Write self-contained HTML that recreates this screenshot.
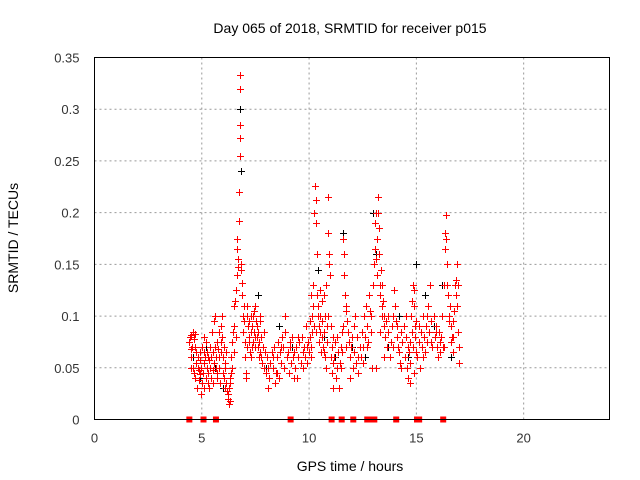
<!DOCTYPE html>
<html><head><meta charset="utf-8"><style>
body{margin:0;background:#fff;}
svg{display:block;font-family:"Liberation Sans",sans-serif;}
</style></head><body>
<svg id="chart" width="640" height="480">
<text x="350" y="33" font-size="14" text-anchor="middle">Day 065 of 2018, SRMTID for receiver p015</text>
<text transform="translate(18,238) rotate(-90)" font-size="14" text-anchor="middle">SRMTID / TECUs</text>
<text x="350" y="471" font-size="14" text-anchor="middle">GPS time / hours</text>
<g id="grid"></g><g id="ticks"></g><g id="marks"></g>
<rect x="94.5" y="57.5" width="515" height="362" fill="none" stroke="#000"/>
</svg>
<script>
const xTicks=[0,5,10,15,20];
const yTicks=[0,0.05,0.1,0.15,0.2,0.25,0.3,0.35];
const yTickLabels=["0","0.05","0.1","0.15","0.2","0.25","0.3","0.35"];
const redT=[
4.42,4.45,4.48,4.5,4.52,4.55,4.58,4.6,4.62,4.65,
4.68,4.7,4.72,4.75,4.78,4.8,4.82,4.85,4.88,4.9,
4.92,4.95,4.98,5.0,5.02,5.05,5.08,5.1,5.12,5.15,
5.18,5.2,5.22,5.25,5.28,5.3,5.32,5.35,5.38,5.4,
5.42,5.45,5.48,5.5,5.52,5.55,5.58,5.6,5.62,5.65,
5.68,5.7,5.72,5.75,5.78,5.8,5.82,5.85,5.88,5.9,
5.92,5.95,5.98,6.0,6.02,6.05,6.08,6.1,6.12,6.15,
6.18,6.2,6.22,6.25,6.28,6.3,6.32,6.35,6.38,6.4,
6.42,6.45,6.48,6.5,6.52,6.55,6.58,6.6,6.62,6.65,
6.66,6.68,6.7,6.72,6.74,6.76,6.78,6.78,6.8,6.8,
6.82,6.84,6.86,6.88,6.9,6.92,6.95,6.98,7.0,7.02,
7.05,7.08,7.1,7.12,7.15,7.18,7.2,7.22,7.25,7.28,
7.3,7.32,7.35,7.38,7.4,7.42,7.45,7.48,7.5,7.52,
7.55,7.58,7.6,7.62,7.65,7.68,7.7,7.72,7.75,7.78,
7.8,7.85,7.9,7.95,8.0,8.05,8.1,8.15,8.2,8.25,
8.3,8.35,8.4,8.45,8.5,8.55,8.6,8.65,8.7,8.75,
8.8,8.85,8.9,8.95,9.0,9.05,9.1,9.15,9.2,9.25,
9.3,9.35,9.4,9.45,9.5,9.55,9.6,9.65,9.7,9.75,
9.8,9.85,9.9,9.95,10.0,10.02,10.05,10.08,10.1,10.12,
10.15,10.18,10.2,10.22,10.25,10.28,10.3,10.32,10.35,10.38,
10.4,10.42,10.45,10.48,10.5,10.52,10.55,10.58,10.6,10.62,
10.65,10.68,10.7,10.72,10.75,10.78,10.8,10.82,10.85,10.88,
10.9,10.92,10.95,10.98,11.0,11.02,11.05,11.08,11.1,11.12,
11.15,11.2,11.25,11.3,11.35,11.4,11.45,11.5,11.52,11.55,
11.58,11.6,11.62,11.65,11.68,11.7,11.72,11.75,11.8,11.85,
11.9,11.95,12.0,12.05,12.1,12.15,12.2,12.25,12.3,12.35,
12.4,12.45,12.5,12.55,12.6,12.65,12.7,12.75,12.8,12.85,
12.9,12.95,13.0,13.02,13.05,13.08,13.1,13.12,13.15,13.18,
13.2,13.22,13.25,13.28,13.3,13.32,13.35,13.38,13.4,13.42,
13.45,13.48,13.5,13.55,13.6,13.65,13.7,13.75,13.8,13.85,
13.9,13.95,14.0,14.05,14.1,14.15,14.2,14.25,14.3,14.35,
14.4,14.45,14.5,14.55,14.6,14.62,14.65,14.68,14.7,14.72,
14.75,14.78,14.8,14.82,14.85,14.88,14.9,14.92,14.95,14.98,
15.0,15.05,15.1,15.15,15.2,15.25,15.3,15.35,15.4,15.45,
15.5,15.55,15.6,15.65,15.7,15.75,15.8,15.85,15.9,15.95,
16.0,16.05,16.1,16.15,16.2,16.25,16.3,16.32,16.35,16.38,
16.4,16.42,16.45,16.48,16.5,16.55,16.6,16.65,16.7,16.75,
16.8,16.85,16.9,16.92,16.95,16.98,17.0,16.6,16.85,16.7,
4.5,4.7,4.9,5.1,5.3,5.5,5.7,5.9,6.1,6.3,
7.1,7.3,7.5,7.7,7.9,8.1,8.3,8.5,8.7,8.9,
9.1,9.3,9.5,9.7,9.9,10.1,10.3,10.5,10.7,10.9,
11.1,11.3,11.5,11.7,11.9,12.1,12.3,12.5,12.7,12.9,
13.1,13.3,13.5,13.7,13.9,14.1,14.3,14.5,14.7,14.9,
15.1,15.3,15.5,15.7,15.9,16.1,16.3,16.5,16.7,16.9];
const redV=[
0.075,0.08,0.068,0.06,0.082,0.07,0.085,0.05,0.078,0.045,
0.04,0.083,0.055,0.065,0.03,0.05,0.06,0.038,0.048,0.058,
0.044,0.025,0.05,0.035,0.07,0.045,0.055,0.03,0.065,0.06,
0.075,0.04,0.05,0.065,0.035,0.045,0.058,0.03,0.07,0.05,
0.06,0.04,0.085,0.048,0.065,0.055,0.095,0.1,0.07,0.05,
0.06,0.075,0.04,0.068,0.085,0.06,0.05,0.035,0.09,0.065,
0.1,0.08,0.06,0.045,0.07,0.04,0.03,0.055,0.065,0.035,
0.028,0.02,0.025,0.03,0.015,0.018,0.035,0.045,0.06,0.05,
0.075,0.085,0.065,0.11,0.09,0.115,0.08,0.125,0.14,0.165,
0.175,0.155,0.147,0.192,0.22,0.255,0.272,0.285,0.32,0.333,
0.15,0.145,0.132,0.12,0.1,0.085,0.11,0.095,0.075,0.06,
0.045,0.04,0.1,0.11,0.09,0.08,0.095,0.075,0.065,0.1,
0.085,0.07,0.09,0.075,0.1,0.085,0.105,0.07,0.08,0.095,
0.08,0.09,0.07,0.085,0.06,0.075,0.065,0.1,0.06,0.08,
0.055,0.07,0.05,0.065,0.045,0.06,0.03,0.04,0.055,0.065,
0.05,0.07,0.035,0.045,0.06,0.075,0.04,0.065,0.055,0.08,
0.07,0.05,0.085,0.06,0.065,0.045,0.07,0.055,0.08,0.06,
0.065,0.05,0.07,0.04,0.06,0.075,0.055,0.08,0.065,0.07,
0.06,0.09,0.07,0.075,0.065,0.08,0.095,0.07,0.12,0.1,
0.085,0.11,0.13,0.09,0.2,0.226,0.212,0.19,0.16,0.12,
0.1,0.11,0.09,0.075,0.1,0.085,0.065,0.115,0.08,0.095,
0.07,0.12,0.085,0.06,0.1,0.05,0.13,0.075,0.09,0.215,
0.18,0.16,0.15,0.14,0.09,0.06,0.07,0.045,0.055,0.08,
0.06,0.075,0.04,0.05,0.065,0.03,0.055,0.07,0.085,0.065,
0.09,0.175,0.16,0.14,0.12,0.105,0.11,0.095,0.085,0.075,
0.06,0.07,0.08,0.05,0.065,0.1,0.055,0.08,0.045,0.07,
0.06,0.085,0.07,0.1,0.08,0.11,0.09,0.075,0.12,0.105,
0.085,0.05,0.13,0.15,0.165,0.19,0.155,0.2,0.175,0.14,
0.2,0.215,0.185,0.16,0.13,0.12,0.145,0.11,0.13,0.1,
0.115,0.09,0.1,0.08,0.095,0.07,0.085,0.06,0.075,0.09,
0.1,0.125,0.11,0.095,0.08,0.07,0.065,0.055,0.085,0.075,
0.09,0.06,0.08,0.05,0.07,0.04,0.065,0.035,0.075,0.055,
0.1,0.085,0.115,0.07,0.13,0.11,0.125,0.09,0.08,0.065,
0.095,0.06,0.075,0.05,0.085,0.07,0.1,0.08,0.065,0.09,
0.075,0.11,0.085,0.13,0.095,0.07,0.1,0.08,0.09,0.07,
0.06,0.085,0.075,0.08,0.1,0.07,0.13,0.165,0.18,0.175,
0.198,0.15,0.13,0.12,0.1,0.11,0.09,0.08,0.095,0.105,
0.13,0.135,0.15,0.13,0.085,0.07,0.055,0.075,0.12,0.065,
0.05,0.07,0.065,0.08,0.06,0.035,0.045,0.075,0.05,0.04,
0.07,0.06,0.11,0.095,0.085,0.05,0.06,0.045,0.07,0.1,
0.075,0.04,0.08,0.05,0.055,0.06,0.085,0.125,0.065,0.1,
0.03,0.08,0.05,0.07,0.04,0.09,0.06,0.055,0.07,0.1,
0.05,0.085,0.06,0.1,0.07,0.09,0.05,0.1,0.055,0.045,
0.09,0.06,0.1,0.075,0.085,0.065,0.07,0.095,0.08,0.11];
const blackT=[4.6,4.9,5.2,5.6,6.0,6.4,6.8,6.85,7.2,7.6,8.0,8.6,9.2,9.8,10.2,10.4,10.7,11.2,11.6,12.0,12.6,13.0,13.1,13.3,13.7,14.2,14.6,15.0,15.4,15.8,16.2,16.6,17.0];
const blackV=[0.06,0.04,0.07,0.05,0.03,0.05,0.3,0.24,0.08,0.12,0.05,0.09,0.07,0.06,0.11,0.145,0.08,0.06,0.18,0.07,0.06,0.2,0.16,0.12,0.07,0.1,0.06,0.15,0.12,0.09,0.13,0.06,0.07];
const eventT=[4.42,5.08,5.66,9.14,11.05,11.52,12.06,12.71,12.95,13.04,14.06,15.03,15.13,16.25];
const X0=94.5,X1=609.5,Y0=419.5,Y1=57.5;
const sx=t=>X0+t*(X1-X0)/24, sy=v=>Y0-v*(Y0-Y1)/0.35;
const NS="http://www.w3.org/2000/svg";
function mk(tag,at,parent){const e=document.createElementNS(NS,tag);for(const k in at)e.setAttribute(k,at[k]);parent.appendChild(e);return e;}
const grid=document.getElementById('grid'),ticks=document.getElementById('ticks'),marks=document.getElementById('marks');
xTicks.forEach(t=>{const x=sx(t);
 if(t>0){const g=mk('line',{x1:x,x2:x,y1:Y0,y2:Y1,stroke:'#999','stroke-dasharray':'2,3'},grid);
 
 }
 const tx=mk('text',{x:x,y:Y0+23,'font-size':13,'text-anchor':'middle',fill:'#333'},ticks);tx.textContent=t;
 
 });
yTicks.forEach((v,i)=>{const y=sy(v);
 if(v>0&&v<0.35){const g=mk('line',{x1:X0,x2:X1,y1:y,y2:y,stroke:'#999','stroke-dasharray':'2,3'},grid);
 
 }
 const tx=mk('text',{x:X0-15,y:y+5,'font-size':13,'text-anchor':'end',fill:'#333'},ticks);tx.textContent=yTickLabels[i];
 
 });
function plus(t,v,c,name){const x=Math.round(sx(t))+0.5,y=Math.round(sy(v))+0.5;
 const p=mk('path',{d:`M${x-3.5},${y}H${x+3.5}M${x},${y-3.5}V${y+3.5}`,stroke:c,'stroke-width':1},marks);
 
 }
blackT.forEach((t,i)=>plus(t,blackV[i],'#000','black-point'));
redT.forEach((t,i)=>plus(t,redV[i],'#f00','red-point'));
eventT.forEach(t=>{const r=mk('rect',{x:sx(t)-3,y:Y0-3,width:6,height:6,fill:'#f00'},marks);
 
 });
</script>
</body></html>
